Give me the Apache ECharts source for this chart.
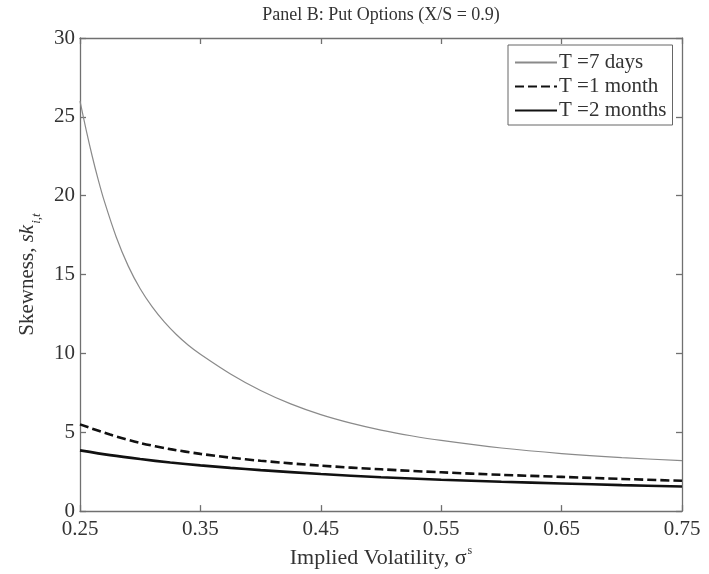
<!DOCTYPE html>
<html>
<head>
<meta charset="utf-8">
<script src="https://cdn.jsdelivr.net/npm/echarts@6/dist/echarts.min.js"></script>
<style>
html,body{margin:0;padding:0;background:#fff;}
#chart{width:709px;height:574px;}
</style>
</head>
<body>
<div id="chart"></div>
<script>
// ---- data ----
const sigma7 = [0.25, 0.255, 0.26, 0.265, 0.27, 0.28, 0.29, 0.30, 0.31, 0.32, 0.33, 0.34, 0.35, 0.375, 0.40, 0.425, 0.45, 0.475, 0.50, 0.525, 0.55, 0.60, 0.65, 0.70, 0.75];
const days7  = [26.0, 24.2, 22.55, 21.05, 19.7, 17.4, 15.55, 14.1, 12.95, 12.0, 11.2, 10.52, 9.95, 8.7, 7.65, 6.8, 6.12, 5.58, 5.14, 4.78, 4.48, 4.0, 3.65, 3.39, 3.2];
const sigmaM = [0.25, 0.275, 0.30, 0.325, 0.35, 0.375, 0.40, 0.45, 0.50, 0.55, 0.60, 0.65, 0.70, 0.75];
const month1 = [5.5, 4.85, 4.32, 3.93, 3.63, 3.39, 3.19, 2.88, 2.65, 2.46, 2.3, 2.17, 2.04, 1.92];
const month2 = [3.85, 3.55, 3.3, 3.08, 2.9, 2.74, 2.6, 2.35, 2.15, 1.99, 1.86, 1.75, 1.65, 1.56];
const xTicks = [0.25, 0.35, 0.45, 0.55, 0.65, 0.75];
const seriesNames = ['T =7 days', 'T =1 month', 'T =2 months'];
const titleText = 'Panel B: Put Options (X/S = 0.9)';

const pair = (xs, ys) => xs.map((x, i) => [x, ys[i]]);
const FONT = '"Liberation Serif", "Times New Roman", serif';
const AX = '#707070';
const TXT = '#333';

const chart = echarts.init(document.getElementById('chart'), null, {renderer: 'canvas'});

const baseX = {
  type: 'value', min: 0.25, max: 0.75,
  axisLine: {show: true, onZero: false, lineStyle: {color: AX, width: 1.3}},
  axisTick: {show: true, inside: true, length: 6, customValues: xTicks, lineStyle: {color: AX, width: 1.3}},
  splitLine: {show: false}
};
const baseY = {
  type: 'value', min: 0, max: 30, interval: 5,
  axisLine: {show: true, onZero: false, lineStyle: {color: AX, width: 1.3}},
  axisTick: {show: true, inside: true, length: 6, lineStyle: {color: AX, width: 1.3}},
  splitLine: {show: false}
};

chart.setOption({
  backgroundColor: '#fff',
  animation: false,
  graphic: [{
    type: 'text', x: 381, y: 6,
    style: {text: titleText, font: '18px ' + FONT, fill: TXT, textAlign: 'center'}
  }],
  grid: {left: 80, right: 27, top: 38, bottom: 61, containLabel: false},
  xAxis: [
    Object.assign({}, baseX, {
      position: 'bottom',
      axisLabel: {show: true, customValues: xTicks, margin: 8, color: TXT, fontFamily: FONT, fontSize: 21,
                  formatter: v => v.toFixed(2)},
      name: '{a|Implied Volatility, σ}{s|s}',
      nameLocation: 'middle', nameGap: 25,
      nameTextStyle: {
        rich: {
          a: {fontFamily: FONT, fontSize: 22, color: TXT, verticalAlign: 'bottom', lineHeight: 24},
          s: {fontFamily: FONT, fontSize: 12, color: TXT, verticalAlign: 'top', lineHeight: 24, padding: [0,0,0,1]}
        }
      }
    }),
    Object.assign({}, baseX, {position: 'top', axisLabel: {show: false}})
  ],
  yAxis: [
    Object.assign({}, baseY, {
      position: 'left',
      axisLabel: {show: true, margin: 5, color: TXT, fontFamily: FONT, fontSize: 21},
      name: '{a|Skewness, }{b|sk}{c|i,t}',
      nameLocation: 'middle', nameGap: 36,
      nameTextStyle: {
        rich: {
          a: {fontFamily: FONT, fontSize: 21, color: TXT, verticalAlign: 'bottom', lineHeight: 24},
          b: {fontFamily: FONT, fontSize: 21, fontStyle: 'italic', color: TXT, verticalAlign: 'bottom', lineHeight: 24},
          c: {fontFamily: FONT, fontSize: 13, fontStyle: 'italic', color: TXT, verticalAlign: 'bottom', lineHeight: 15, padding: [0,0,-5,1]}
        }
      }
    }),
    Object.assign({}, baseY, {position: 'right', axisLabel: {show: false}})
  ],
  legend: {
    orient: 'vertical', left: 508, top: 45,
    padding: [7, 6, 4, 6], itemGap: 3,
    itemWidth: 42, itemHeight: 20,
    borderColor: '#666', borderWidth: 1, backgroundColor: '#fff',
    itemStyle: {opacity: 0},
    textStyle: {fontFamily: FONT, fontSize: 21, color: TXT, padding: [0, 0, 0, -3]},
    data: seriesNames
  },
  series: [
    {name: seriesNames[0], type: 'line', smooth: 0.3, showSymbol: false, symbol: 'none',
     data: pair(sigma7, days7), lineStyle: {color: '#8a8a8a', width: 1.2}, itemStyle: {color: '#8a8a8a'}},
    {name: seriesNames[1], type: 'line', smooth: 0.3, showSymbol: false, symbol: 'none',
     data: pair(sigmaM, month1), lineStyle: {color: '#111', width: 2.6, type: [9, 4]}, itemStyle: {color: '#111'}},
    {name: seriesNames[2], type: 'line', smooth: 0.3, showSymbol: false, symbol: 'none',
     data: pair(sigmaM, month2), lineStyle: {color: '#111', width: 2.6}, itemStyle: {color: '#111'}}
  ]
});
</script>
</body>
</html>
